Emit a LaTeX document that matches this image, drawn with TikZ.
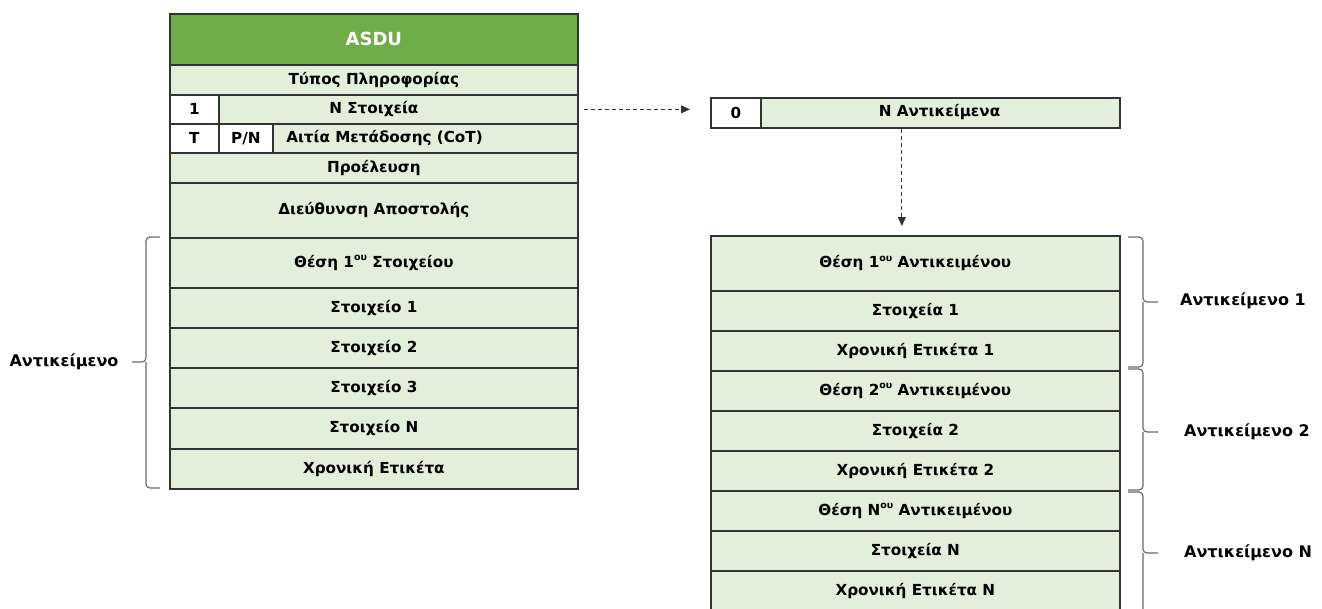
\documentclass[tikz,border=0pt]{standalone}
\usepackage{fontspec}
\setmainfont{DejaVu Sans}
\usetikzlibrary{arrows.meta}
\definecolor{lg}{HTML}{E2EFDA}
\definecolor{hdr}{HTML}{70AD47}
\definecolor{bd}{HTML}{333333}
\definecolor{brc}{HTML}{6A6A6A}
\newcommand\supo[1]{\raisebox{0.42em}{\fontsize{9.5}{9.5}\selectfont #1}}
\begin{document}
\begin{tikzpicture}[x=1pt,y=-1pt,
  cell/.style={draw=bd, line width=1.7pt, fill=lg, inner sep=0pt, anchor=north west,
    font=\fontsize{15.2}{17}\selectfont\bfseries, text=black},
  wcell/.style={cell, fill=white},
  hcell/.style={cell, fill=hdr, text=white, font=\fontsize{18}{20}\selectfont\bfseries},
  txt/.style={font=\fontsize{15.2}{17}\selectfont\bfseries, inner sep=0pt},
  lbl/.style={font=\fontsize{16}{18}\selectfont\bfseries, inner sep=0pt},
  dasharrow/.style={draw=bd, line width=1.1pt, dash pattern=on 4pt off 3pt,
    -{Triangle[length=9pt,width=8pt]}},
  bracestyle/.style={draw=brc, line width=1.2pt, rounded corners=4pt},
]
\useasboundingbox (0,0) rectangle (1322,608);
\clip (0,0) rectangle (1322,608);

% ---------- left column ----------
\node[hcell, minimum width=408pt, minimum height=51pt] (asdu) at (169,13) {ASDU};
\node[cell, minimum width=408pt, minimum height=30pt] (tp) at (169,64) {Τύπος Πληροφορίας};
\node[cell, minimum width=408pt, minimum height=29pt] (ns) at (169,94) {N Στοιχεία};
\node[wcell, minimum width=49pt, minimum height=29pt] (one) at (169,94) {1};
\node[cell, minimum width=408pt, minimum height=29pt] (cot) at (169,123) {};
\node[txt] (cottxt) at (384.5,138) {Αιτία Μετάδοσης (CoT)};
\node[wcell, minimum width=49pt, minimum height=29pt] (tb) at (169,123) {T};
\node[wcell, minimum width=54pt, minimum height=29pt] (pn) at (218,123) {P/N};
\node[cell, minimum width=408pt, minimum height=30pt] (pro) at (169,152) {Προέλευση};
\node[cell, minimum width=408pt, minimum height=55pt] (dir) at (169,182) {Διεύθυνση Αποστολής};
\node[cell, minimum width=408pt, minimum height=50pt] (th1) at (169,237) {Θέση 1\supo{ου} Στοιχείου};
\node[cell, minimum width=408pt, minimum height=40pt] (s1) at (169,287) {Στοιχείο 1};
\node[cell, minimum width=408pt, minimum height=40pt] (s2) at (169,327) {Στοιχείο 2};
\node[cell, minimum width=408pt, minimum height=40pt] (s3) at (169,367) {Στοιχείο 3};
\node[cell, minimum width=408pt, minimum height=41pt] (sn) at (169,407) {Στοιχείο N};
\node[cell, minimum width=408pt, minimum height=40pt] (xe) at (169,448) {Χρονική Ετικέτα};

% left brace
\draw[bracestyle] (160,237) -| (146,362) -- (132,362);
\draw[bracestyle] (160,488) -| (146,362);
\node[lbl] (lobj) at (64,362) {Αντικείμενο};

% ---------- right column ----------
\node[cell, minimum width=409pt, minimum height=30pt] (top) at (710,97) {};
\node[wcell, minimum width=50pt, minimum height=30pt] (zero) at (710,97) {0};
\node[txt] (toptxt) at (939.5,112) {N Αντικείμενα};

\node[cell, minimum width=409pt, minimum height=55pt] (r1) at (710,235) {Θέση 1\supo{ου} Αντικειμένου};
\node[cell, minimum width=409pt, minimum height=40pt] (r2) at (710,290) {Στοιχεία 1};
\node[cell, minimum width=409pt, minimum height=40pt] (r3) at (710,330) {Χρονική Ετικέτα 1};
\node[cell, minimum width=409pt, minimum height=40pt] (r4) at (710,370) {Θέση 2\supo{ου} Αντικειμένου};
\node[cell, minimum width=409pt, minimum height=40pt] (r5) at (710,410) {Στοιχεία 2};
\node[cell, minimum width=409pt, minimum height=40pt] (r6) at (710,450) {Χρονική Ετικέτα 2};
\node[cell, minimum width=409pt, minimum height=40pt] (r7) at (710,490) {Θέση N\supo{ου} Αντικειμένου};
\node[cell, minimum width=409pt, minimum height=40pt] (r8) at (710,530) {Στοιχεία N};
\node[cell, minimum width=409pt, minimum height=40pt] (r9) at (710,570) {Χρονική Ετικέτα N};

% right braces
\draw[bracestyle] (1128,237) -| (1143,302) -- (1158,302);
\draw[bracestyle] (1128,367) -| (1143,302);
\draw[bracestyle] (1128,369) -| (1143,432) -- (1158,432);
\draw[bracestyle] (1128,490) -| (1143,432);
\draw[bracestyle] (1128,492) -| (1143,553) -- (1158,553);
\draw[bracestyle] (1128,614) -| (1143,553);
\node[lbl, anchor=west] (o1) at (1180,301) {Αντικείμενο 1};
\node[lbl, anchor=west] (o2) at (1184,432) {Αντικείμενο 2};
\node[lbl, anchor=west] (o3) at (1184,553) {Αντικείμενο N};

% ---------- arrows ----------
\draw[dasharrow, shorten <=5pt, shorten >=20pt] (ns.east) -- (ns.east -| top.west);
\draw[dasharrow, shorten >=9pt] ([xshift=-13.5pt]top.south) -- ([xshift=-13.5pt]r1.north);
\end{tikzpicture}
\end{document}
